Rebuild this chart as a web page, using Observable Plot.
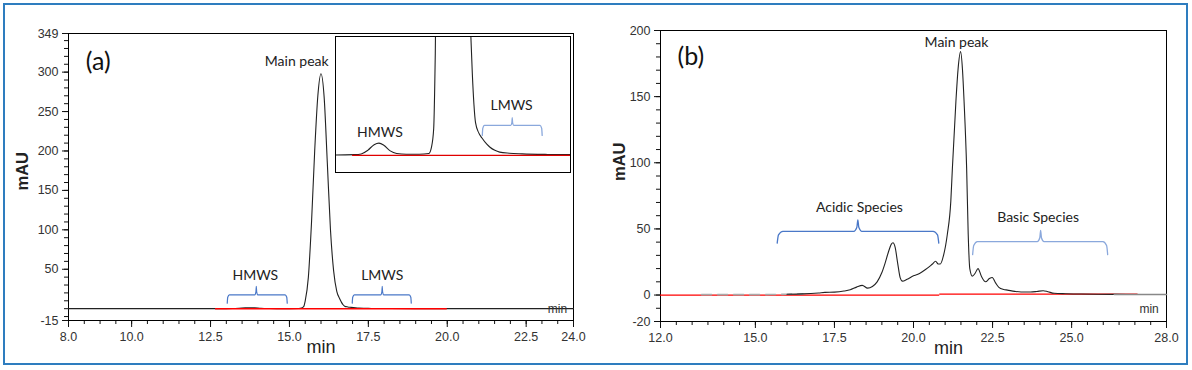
<!DOCTYPE html>
<html><head><meta charset="utf-8">
<script src="https://cdn.jsdelivr.net/npm/d3@7"></script>
<script src="https://cdn.jsdelivr.net/npm/@observablehq/plot@0.6"></script>
<style>
html,body{margin:0;padding:0;background:#fff;}
#wrap{position:relative;width:1192px;height:370px;overflow:hidden;background:#fff;}
#border{position:absolute;left:3px;top:3px;width:1185px;height:362px;box-sizing:border-box;border:2.5px solid #2e7dbf;pointer-events:none;}
.p{position:absolute;top:0;}
.p svg{display:block;}
</style></head><body>
<div id="wrap">
  <div id="pa" class="p" style="left:0px"></div>
  <div id="pb" class="p" style="left:596px"></div>
  <div id="inset" class="p" style="left:334px;top:35px"></div>
  <div id="border"></div>
</div>
<script>
// ---------- Panel (a): SEC chromatogram ----------
const aTime  = [8.0, 12.4, 13.0, 13.2, 13.4, 13.6, 13.75, 13.9, 14.1, 14.3, 14.6, 15.0, 15.3, 15.38, 15.45, 15.5, 15.6, 15.7, 15.8, 15.9, 16.0, 16.1, 16.2, 16.3, 16.4, 16.5, 16.6, 16.65, 16.7, 16.75, 16.85, 16.95, 17.1, 17.2, 17.35, 17.5, 17.8, 18.2, 19.0, 20.0, 24.0];
const aValue = [0.05, 0.05, 0.08, 0.15, 0.5, 1.05, 1.2, 1.0, 0.45, 0.2, 0.12, 0.12, 0.2, 0.8, 2.6, 10, 40, 110, 200, 270, 298, 268, 185, 100, 48, 22, 12, 8, 5, 3.2, 2.2, 1.7, 1.1, 0.8, 0.5, 0.33, 0.22, 0.16, 0.1, 0.07, 0.05];
const aXTicks = [8, 10, 12.5, 15, 17.5, 20, 22.5, 24];
const aYTicks = [349, 300, 250, 200, 150, 100, 50, -15];
const aBaseStart = [12.66], aBaseEnd = [20.0], aBaseLevel = [0];
const aLabels = ["Main peak", "HMWS", "LMWS"];
const aLabelT = [15.23, 13.92, 17.94];
const aLabelV = [314, 41.5, 41.5];
const aBraceStart = [13.03, 16.99], aBraceEnd = [14.93, 18.86], aBraceTip = [13.95, 17.94];
const aBraceLow = [7, 7], aBraceBar = [17.6, 17.6], aBraceTop = [28.2, 28.2];
const aBraceColor = ["#4a78c8", "#4a78c8"];

// inset of (a)
const insetX = [12.4, 19.7], insetY = [-1.66, 11.6];
const insetBaseStart = [12.93], insetBaseEnd = [19.7];
const insetLabels = ["HMWS", "LMWS"], insetLabelT = [13.78, 17.87], insetLabelV = [2.2, 4.9];
const inBraceStart = [16.96], inBraceEnd = [18.82], inBraceTip = [17.89];
const inBraceLow = [1.95], inBraceBar = [2.93], inBraceTop = [3.68];

// ---------- Panel (b): charge variant chromatogram ----------
const bTime  = [13.3, 14.0, 15.0, 15.5, 16.0, 16.5, 17.0, 17.2, 17.5, 17.8, 18.0, 18.2, 18.38, 18.55, 18.7, 18.85, 19.0, 19.1, 19.2, 19.3, 19.35, 19.42, 19.5, 19.58, 19.65, 19.8, 20.0, 20.12, 20.3, 20.45, 20.6, 20.7, 20.78, 20.85, 20.95, 21.07, 21.18, 21.23, 21.34, 21.41, 21.49, 21.55, 21.6, 21.68, 21.73, 21.78, 21.86, 21.95, 22.04, 22.15, 22.28, 22.4, 22.49, 22.6, 22.7, 22.85, 22.97, 23.2, 23.4, 23.7, 23.9, 24.1, 24.25, 24.45, 24.8, 25.3, 26.35, 27.2, 28.0];
const bValue = [0.3, 0.3, 0.3, 0.4, 0.6, 0.9, 1.6, 2.0, 2.2, 3.0, 4.0, 6.0, 7.3, 5.2, 6.5, 10, 17, 24, 32, 38.5, 39.5, 36, 24, 13, 10.5, 12, 14.5, 15.5, 18, 20.5, 23.5, 25.5, 23.5, 23.5, 30, 46, 71, 96, 146, 171, 184, 170, 146, 96, 46, 20, 14.3, 16.5, 20, 14, 10, 12.5, 13.3, 9, 5.8, 4.2, 3.75, 2.8, 2.3, 2.3, 2.7, 3.3, 2.5, 1.3, 1.0, 0.8, 0.5, 0.4, 0.4];
const bXTicks = [12, 15, 17.5, 20, 22.5, 25, 28];
const bYTicks = [200, 150, 100, 50, 0, -20];
const bBaseStart = [12.0, 20.83], bBaseEnd = [20.83, 27.1], bBaseLevel = [0, 0.7];
const bLabels = ["Main peak", "Acidic Species", "Basic Species"];
const bLabelT = [21.36, 18.29, 23.94];
const bLabelV = [191, 66.2, 58.6];
const bBraceStart = [15.69, 21.87], bBraceEnd = [20.8, 26.14], bBraceTip = [18.24, 24.02];
const bBraceLow = [39.2, 30.6], bBraceBar = [48.2, 40.4], bBraceTop = [56.9, 48.8];
const bBraceColor = ["#4a78c8", "#8aa8dc"];

// ---------- helpers ----------
const rows = (ts, vs) => ts.map((t, i) => ({t, v: vs[i]}));
const bases = (s, e, l) => s.map((x, i) => ({t1: x, t2: e[i], v: l[i]}));
const labels = (txt, ts, vs) => txt.map((s, i) => ({s, t: ts[i], v: vs[i]}));
function braces(s, e, tip, low, bar, top, col) {
  const out = [];
  s.forEach((x1, i) => {
    const x2 = e[i], xm = tip[i], w = x2 - x1, h = bar[i] - low[i], th = top[i] - bar[i];
    const pts = [[x1, low[i]], [x1 + 0.008 * w, low[i] + 0.7 * h], [x1 + 0.035 * w, bar[i]],
      [xm - 0.025 * w, bar[i]], [xm - 0.006 * w, bar[i] + 0.35 * th], [xm, top[i]],
      [xm + 0.006 * w, bar[i] + 0.35 * th], [xm + 0.025 * w, bar[i]],
      [x2 - 0.035 * w, bar[i]], [x2 - 0.008 * w, low[i] + 0.7 * h], [x2, low[i]]];
    pts.forEach(([t, v]) => out.push({t, v, id: i, c: col[i]}));
  });
  return out;
}
const tickFont = "'Liberation Sans', Arial, sans-serif";
const annFont = "Lato, 'Open Sans', sans-serif";
const fmt1 = d3.format(".1f");

function axes(xTicks, yTicks, xMinor, yMinor) {
  return [
    Plot.axisX({ticks: xMinor, tickSize: 4, tickFormat: () => "", label: null}),
    Plot.axisX({ticks: xTicks, tickSize: 7, tickPadding: 5, tickFormat: fmt1, label: null, fill: "#333"}),
    Plot.axisY({ticks: yMinor, tickSize: 4, tickFormat: () => "", label: null}),
    Plot.axisY({ticks: yTicks, tickSize: 6, tickPadding: 4, tickFormat: d => String(d), label: null, fill: "#333"}),
    Plot.frame({stroke: "#000"})
  ];
}

// ---------- Plot (a) ----------
const traceA = rows(aTime, aValue);
const plotA = Plot.plot({
  width: 590, height: 370, marginLeft: 68, marginRight: 17, marginTop: 33, marginBottom: 50,
  x: {domain: [8, 24]}, y: {domain: [-15, 349]},
  style: {fontFamily: tickFont, fontSize: "12.5px", color: "#111", background: "transparent"},
  marks: [
    ...axes(aXTicks, aYTicks, d3.range(8, 24.01, 0.5), d3.range(-10, 349, 10)),
    Plot.line(traceA, {x: "t", y: "v", curve: "monotone-x", stroke: "#222", strokeWidth: 1.1}),
    Plot.ruleY(bases(aBaseStart, aBaseEnd, aBaseLevel), {y: "v", x1: "t1", x2: "t2", stroke: "#ff0000", strokeWidth: 1.5}),
    Plot.line(braces(aBraceStart, aBraceEnd, aBraceTip, aBraceLow, aBraceBar, aBraceTop, aBraceColor),
      {x: "t", y: "v", z: "id", stroke: "c", curve: "monotone-x", strokeWidth: 1.2}),
    Plot.text(labels(aLabels, aLabelT, aLabelV), {x: "t", y: "v", text: "s", fontFamily: annFont, fontSize: 14, fill: "#222"}),
    Plot.text(["(a)"], {x: [8.94], y: [313], text: d => d, fontFamily: annFont, fontSize: 25, fill: "#111"}),
    Plot.text(["min"], {x: [23.49], y: [-1], text: d => d, fontSize: 12, fill: "#333"}),
    Plot.text(["mAU"], {frameAnchor: "left", lineAnchor: "middle", rotate: -90, dx: -46, dy: 13.5, fontSize: 16.5, fontWeight: "bold", fill: "#222"}),
    Plot.text(["min"], {frameAnchor: "bottom", lineAnchor: "middle", dy: 27, fontSize: 18, fill: "#222"})
  ]
});
document.getElementById("pa").appendChild(plotA);

// ---------- Inset ----------
const plotIn = Plot.plot({
  width: 237, height: 138, marginLeft: 1, marginRight: 1, marginTop: 1, marginBottom: 1,
  x: {domain: insetX, axis: null}, y: {domain: insetY, axis: null},
  style: {background: "#fff"},
  marks: [
    Plot.line(traceA, {x: "t", y: "v", curve: "monotone-x", stroke: "#222", strokeWidth: 1.1, clip: true}),
    Plot.ruleY(bases(insetBaseStart, insetBaseEnd, [0]), {y: "v", x1: "t1", x2: "t2", stroke: "#e00000", strokeWidth: 1.3}),
    Plot.line(braces(inBraceStart, inBraceEnd, inBraceTip, inBraceLow, inBraceBar, inBraceTop, ["#8aa8dc"]),
      {x: "t", y: "v", z: "id", stroke: "c", curve: "monotone-x", strokeWidth: 1.3}),
    Plot.text(labels(insetLabels, insetLabelT, insetLabelV), {x: "t", y: "v", text: "s", fontFamily: annFont, fontSize: 14, fill: "#222"}),
    Plot.frame({stroke: "#000", strokeWidth: 1})
  ]
});
document.getElementById("inset").appendChild(plotIn);

// ---------- Plot (b) ----------
const traceB = rows(bTime, bValue);
const plotB = Plot.plot({
  width: 596, height: 370, marginLeft: 64, marginRight: 26, marginTop: 30, marginBottom: 49,
  x: {domain: [12, 28]}, y: {domain: [-20, 200]},
  style: {fontFamily: tickFont, fontSize: "12.5px", color: "#111", background: "transparent"},
  marks: [
    ...axes(bXTicks, bYTicks, d3.range(12, 28.01, 0.5), d3.range(-20, 200.01, 10)),
    Plot.ruleY(bases(bBaseStart, bBaseEnd, bBaseLevel), {y: "v", x1: "t1", x2: "t2", stroke: "#ff0000", strokeWidth: 1.3}),
    Plot.line(traceB.filter(d => d.t <= 16.5), {x: "t", y: "v", curve: "monotone-x", stroke: "#aaa", strokeWidth: 1.6, strokeDasharray: "10,6"}),
    Plot.line(traceB.filter(d => d.t >= 16.0 && d.t <= 27.2), {x: "t", y: "v", curve: "monotone-x", stroke: "#222", strokeWidth: 1.1}),
    Plot.line(traceB.filter(d => d.t >= 26.35), {x: "t", y: "v", stroke: "#888", strokeWidth: 1.6}),
    Plot.line(braces(bBraceStart, bBraceEnd, bBraceTip, bBraceLow, bBraceBar, bBraceTop, bBraceColor),
      {x: "t", y: "v", z: "id", stroke: "c", curve: "monotone-x", strokeWidth: 1.3}),
    Plot.text(labels(bLabels, bLabelT, bLabelV), {x: "t", y: "v", text: "s", fontFamily: annFont, fontSize: 14, fill: "#222"}),
    Plot.text(["(b)"], {x: [12.96], y: [179.8], text: d => d, fontFamily: annFont, fontSize: 25, fill: "#111"}),
    Plot.text(["min"], {x: [27.45], y: [-11], text: d => d, fontSize: 12, fill: "#333"}),
    Plot.text(["mAU"], {frameAnchor: "left", lineAnchor: "middle", rotate: -90, dx: -41, dy: 5, fontSize: 16.5, fontWeight: "bold", fill: "#222"}),
    Plot.text(["min"], {frameAnchor: "bottom", lineAnchor: "middle", dx: 35, dy: 27, fontSize: 18, fill: "#222"})
  ]
});
document.getElementById("pb").appendChild(plotB);
</script>
</body></html>
